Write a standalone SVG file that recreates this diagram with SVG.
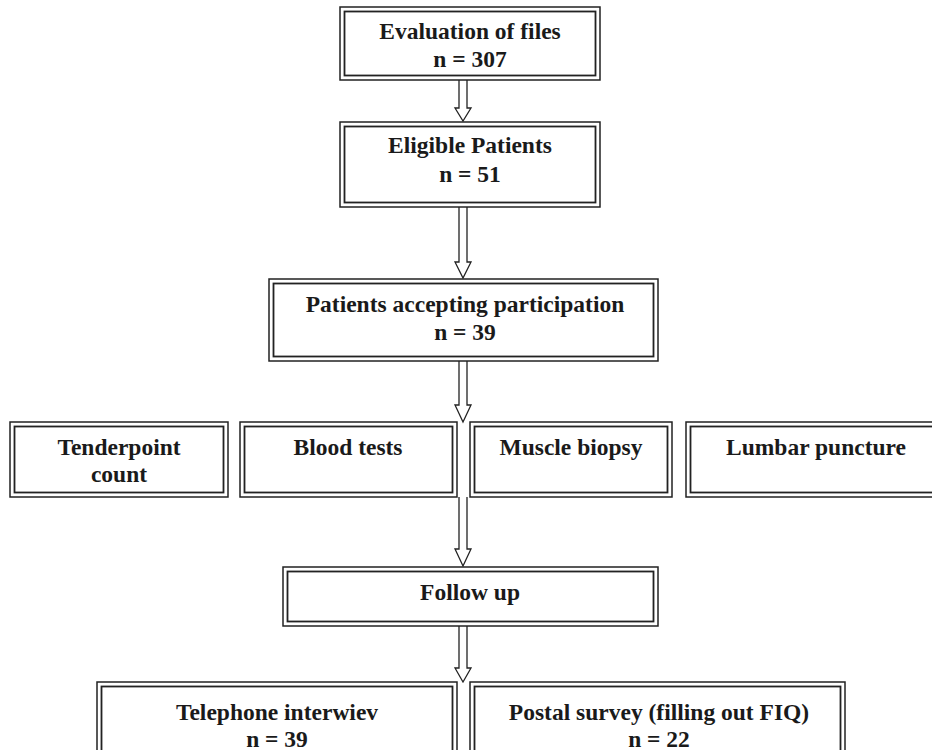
<svg xmlns="http://www.w3.org/2000/svg" width="932" height="750" viewBox="0 0 932 750">
<style>
.o{fill:#fff;stroke:#222;stroke-width:1.5}
.i{fill:none;stroke:#222;stroke-width:1.8}
.t{font-family:"Liberation Serif","Times New Roman",serif;font-weight:bold;font-size:23.5px;fill:#1a1a1a;text-anchor:middle}
.a{fill:#fff;stroke:#222;stroke-width:1.3;stroke-linejoin:miter}
</style>
<rect width="932" height="750" fill="#fff"/>
<g id="connectors">
<path class="a" d="M459,80 V108 H455 L463,121 L471,108 H467 V80"/>
<path class="a" d="M459,207 V262 H455 L463,278 L471,262 H467 V207"/>
<path class="a" d="M459,361 V405 H455 L463,422 L471,405 H467 V361"/>
<path class="a" d="M459,497 V549 H455 L463,566 L471,549 H467 V497"/>
<path class="a" d="M459,626 V668 H455 L463,682 L471,668 H467 V626"/>
</g>
<g id="n1">
<rect class="o" x="340" y="7" width="260" height="73"/>
<rect class="i" x="344.5" y="11.5" width="251" height="64"/>
<text class="t" x="470" y="39">Evaluation of files</text>
<text class="t" x="470" y="67">n = 307</text>
</g>
<g id="n2">
<rect class="o" x="340" y="122" width="260" height="85"/>
<rect class="i" x="344.5" y="126.5" width="251" height="76"/>
<text class="t" x="470" y="153">Eligible Patients</text>
<text class="t" x="470" y="182">n = 51</text>
</g>
<g id="n3">
<rect class="o" x="269" y="279" width="389" height="82"/>
<rect class="i" x="273.5" y="283.5" width="380" height="73"/>
<text class="t" x="465" y="312">Patients accepting participation</text>
<text class="t" x="465" y="340">n = 39</text>
</g>
<g id="n4">
<rect class="o" x="10" y="422" width="218" height="75"/>
<rect class="i" x="14.5" y="426.5" width="209" height="66"/>
<text class="t" x="119" y="455">Tenderpoint</text>
<text class="t" x="119" y="482">count</text>
</g>
<g id="n5">
<rect class="o" x="240" y="422" width="217" height="75"/>
<rect class="i" x="244.5" y="426.5" width="208" height="66"/>
<text class="t" x="348" y="455">Blood tests</text>
</g>
<g id="n6">
<rect class="o" x="470" y="422" width="202" height="75"/>
<rect class="i" x="474.5" y="426.5" width="193" height="66"/>
<text class="t" x="571" y="455">Muscle biopsy</text>
</g>
<g id="n7">
<rect class="o" x="686" y="422" width="260" height="75"/>
<rect class="i" x="690.5" y="426.5" width="251" height="66"/>
<text class="t" x="816" y="455">Lumbar puncture</text>
</g>
<g id="n8">
<rect class="o" x="283" y="567" width="375" height="59"/>
<rect class="i" x="287.5" y="571.5" width="366" height="50"/>
<text class="t" x="470" y="600">Follow up</text>
</g>
<g id="n9">
<rect class="o" x="97" y="682" width="360" height="80"/>
<rect class="i" x="101.5" y="686.5" width="351" height="71"/>
<text class="t" x="277" y="720">Telephone interwiev</text>
<text class="t" x="277" y="746.5">n = 39</text>
</g>
<g id="n10">
<rect class="o" x="470" y="682" width="375" height="80"/>
<rect class="i" x="474.5" y="686.5" width="366" height="71"/>
<text class="t" x="659" y="720">Postal survey (filling out FIQ)</text>
<text class="t" x="659" y="746.5">n = 22</text>
</g>
</svg>
